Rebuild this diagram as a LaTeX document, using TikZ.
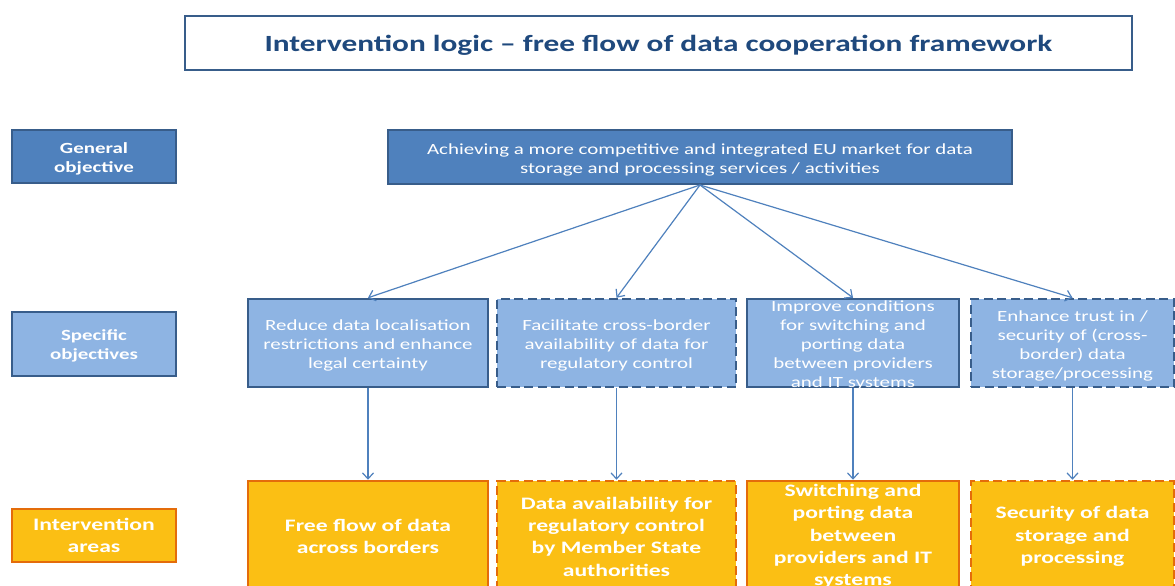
\documentclass[tikz,border=0pt]{standalone}
\usepackage{fontspec}
\setmainfont{Carlito}[FakeStretch=1.35]
\usetikzlibrary{arrows.meta}

\definecolor{navy}{HTML}{1F497D}
\definecolor{edgeblue}{HTML}{385D8A}
\definecolor{midblue}{HTML}{4F81BD}
\definecolor{paleblue}{HTML}{8EB4E3}
\definecolor{gold}{HTML}{FBBF14}
\definecolor{rust}{HTML}{E46C0A}

\tikzset{
  titlebox/.style={draw=edgeblue, line width=2pt, fill=white, inner sep=0pt},
  titletext/.style={text=navy, font=\fontsize{23.2}{27}\selectfont\bfseries, yshift=-2.5pt},
  genbox/.style={draw=edgeblue, line width=2pt, fill=midblue, inner sep=0pt},
  specbox/.style={draw=edgeblue, line width=2.5pt, fill=paleblue, inner sep=0pt},
  areabox/.style={draw=rust, line width=2.5pt, fill=gold, inner sep=0pt},
  brokenline/.style={dash pattern=on 9pt off 4.5pt},
  rowlabel/.style={text=white, align=center, font=\fontsize{15.5}{19}\selectfont\bfseries, yshift=-2pt},
  arealabel/.style={text=white, align=center, font=\fontsize{17.5}{22.3}\selectfont\bfseries},
  plainlabel/.style={text=white, align=center, font=\fontsize{15.5}{19}\selectfont, yshift=-2.5pt},
  link/.style={draw=midblue, line width=1.2pt, -{Straight Barb[length=6pt,width=11pt]}}
}

\begin{document}
\begin{tikzpicture}[x=1pt,y=-1pt]
\clip (0,0) rectangle (1175,586);
\fill[white] (0,0) rectangle (1175,586);

% heading
\node[titlebox, minimum width=947, minimum height=54] (title) at (658.5,43) {};
\node[titletext] at (title.center)
  {Intervention logic -- free flow of data cooperation framework};

% row labels on the left
\node[genbox, minimum width=164, minimum height=53] (lgen) at (94,156.5) {};
\node[rowlabel] at (lgen.center) {General\\objective};
\node[specbox, line width=2pt, minimum width=164, minimum height=64] (lspec) at (94,344) {};
\node[rowlabel] at (lspec.center) {Specific\\objectives};
\node[areabox, line width=2pt, minimum width=164, minimum height=53] (larea) at (94,535.5) {};
\node[arealabel] at (larea.center) {Intervention\\areas};

% general objective
\node[genbox, minimum width=624, minimum height=54] (gen) at (700,157) {};
\node[plainlabel] at (gen.center)
  {Achieving a more competitive and integrated EU market for data\\storage and processing services / activities};

% specific objectives
\node[specbox, minimum width=240, minimum height=88] (s1) at (368,343) {};
\node[specbox, brokenline, minimum width=239, minimum height=88] (s2) at (616.5,343) {};
\node[specbox, minimum width=212, minimum height=88] (s3) at (853,343) {};
\node[specbox, brokenline, minimum width=203, minimum height=88] (s4) at (1072.5,343) {};

\node[plainlabel] at (s1.center) {Reduce data localisation\\restrictions and enhance\\legal certainty};
\node[plainlabel] at (s2.center) {Facilitate cross-border\\availability of data for\\regulatory control};
\node[plainlabel] at (s3.center) {Improve conditions\\for switching and\\porting data\\between providers\\and IT systems};
\node[plainlabel] at (s4.center) {Enhance trust in /\\security of (cross-\\border) data\\storage/processing};

% intervention areas
\node[areabox, minimum width=240, minimum height=111] (a1) at (368,536.5) {};
\node[areabox, brokenline, minimum width=239, minimum height=111] (a2) at (616.5,536.5) {};
\node[areabox, minimum width=212, minimum height=111] (a3) at (853,536.5) {};
\node[areabox, brokenline, minimum width=203, minimum height=111] (a4) at (1072.5,536.5) {};

\node[arealabel] at (a1.center) {Free flow of data\\across borders};
\node[arealabel] at (a2.center) {Data availability for\\regulatory control\\by Member State\\authorities};
\node[arealabel] at (a3.center) {Switching and\\porting data\\between\\providers and IT\\systems};
\node[arealabel] at (a4.center) {Security of data\\storage and\\processing};

% connectors
\foreach \k in {1,2,3,4} {
  \draw[link] (gen.south) -- (s\k.north);
  \draw[link] (s\k.south) -- (a\k.north);
}
\end{tikzpicture}
\end{document}
